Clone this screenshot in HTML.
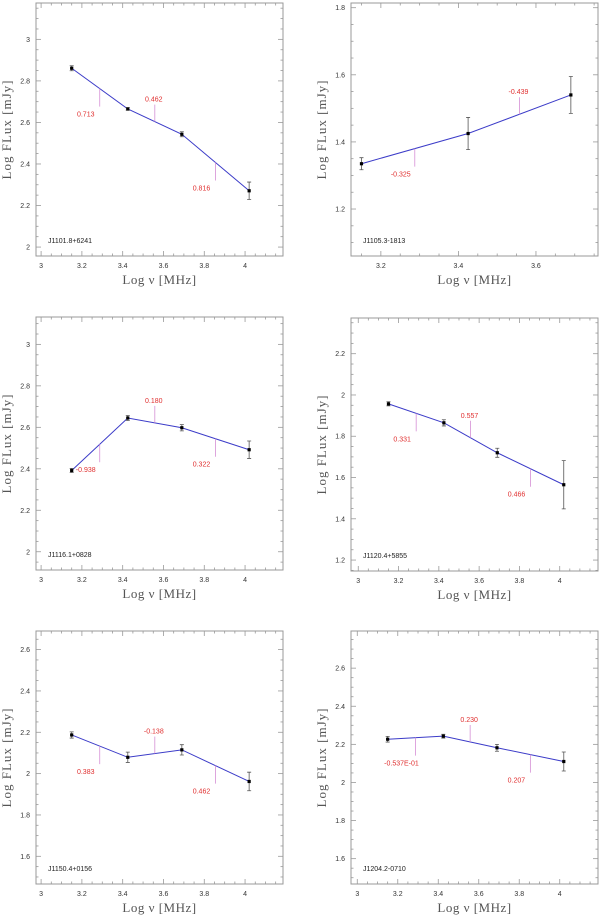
<!DOCTYPE html>
<html><head><meta charset="utf-8">
<style>
html,body{margin:0;padding:0;background:#fff;}
svg{display:block;}
text{font-family:"Liberation Sans",sans-serif;}
.ser{font-family:"Liberation Serif",serif;}
</style></head>
<body>
<svg id="chart" width="600" height="915" viewBox="0 0 600 915"></svg>
<script>
// ---- data ----
const sourceNames = ["J1101.8+6241","J1105.3-1813","J1116.1+0828","J1120.4+5855","J1150.4+0156","J1204.2-0710"];
const logFreq = [3.15, 3.425, 3.69, 4.02];
const fluxP1 = [2.861, 2.665, 2.543, 2.271];
const errP1  = [0.012, 0.006, 0.012, 0.042];
const fluxP2 = [1.335, 1.425, 1.54];
const errP2  = [0.018, 0.048, 0.055];
const fluxP3 = [2.392, 2.645, 2.598, 2.492];
const errP3  = [0.01, 0.012, 0.015, 0.042];
const fluxP4 = [1.957, 1.865, 1.72, 1.565];
const errP4  = [0.01, 0.015, 0.022, 0.117];
const fluxP5 = [2.187, 2.079, 2.115, 1.962];
const errP5  = [0.015, 0.025, 0.025, 0.045];
const fluxP6 = [2.227, 2.243, 2.182, 2.11];
const errP6  = [0.015, 0.01, 0.018, 0.05];
const slopeP1 = ["0.713","0.462","0.816"];
const slopeP2 = ["-0.325","-0.439"];
const slopeP3 = ["-0.938","0.180","0.322"];
const slopeP4 = ["0.331","0.557","0.466"];
const slopeP5 = ["0.383","-0.138","0.462"];
const slopeP6 = ["-0.537E-01","0.230","0.207"];
const xTicksA = [3, 3.2, 3.4, 3.6, 3.8, 4];
const xTicksB = [3.2, 3.4, 3.6];
const yTicksP1 = [2, 2.2, 2.4, 2.6, 2.8, 3];
const yTicksP2 = [1.2, 1.4, 1.6, 1.8];
const yTicksP4 = [1.2, 1.4, 1.6, 1.8, 2, 2.2];
const yTicksP5 = [1.6, 1.8, 2, 2.2, 2.4, 2.6];

const panels = [
 {box:[36,3,283,256], xr:[2.975,4.186], yr:[1.957,3.175], flux:fluxP1, err:errP1, slopes:slopeP1, xt:xTicksA, yt:yTicksP1},
 {box:[351,3,598,256], xr:[3.123,3.76], yr:[1.06,1.814], flux:fluxP2, err:errP2, slopes:slopeP2, xt:xTicksB, yt:yTicksP2},
 {box:[36,317,283,570], xr:[2.975,4.186], yr:[1.912,3.132], flux:fluxP3, err:errP3, slopes:slopeP3, xt:xTicksA, yt:yTicksP1},
 {box:[351,318,598,571], xr:[2.964,4.19], yr:[1.147,2.373], flux:fluxP4, err:errP4, slopes:slopeP4, xt:xTicksA, yt:yTicksP4},
 {box:[36,631,283,884], xr:[2.975,4.186], yr:[1.466,2.69], flux:fluxP5, err:errP5, slopes:slopeP5, xt:xTicksA, yt:yTicksP5},
 {box:[351,631,598,884], xr:[2.969,4.189], yr:[1.467,2.795], flux:fluxP6, err:errP6, slopes:slopeP6, xt:xTicksA, yt:yTicksP5}
];
const NS="http://www.w3.org/2000/svg";
const svg=document.getElementById('chart');
function mk(tag,attrs,parent,txt){const e=document.createElementNS(NS,tag);for(const k in attrs)e.setAttribute(k,attrs[k]);if(txt!==undefined)e.textContent=txt;parent.appendChild(e);return e;}
function fmt(v){return String(Math.round(v*10)/10===v?v:+v.toFixed(1));}

panels.forEach((p,pi)=>{
  const [x0,y0,x1,y1]=p.box;
  const X=v=>x0+(v-p.xr[0])/(p.xr[1]-p.xr[0])*(x1-x0);
  const Y=v=>y1-(v-p.yr[0])/(p.yr[1]-p.yr[0])*(y1-y0);
  const g=mk('g',{},svg);
  
  
  const fr=mk('rect',{x:x0,y:y0,width:x1-x0,height:y1-y0,fill:'none',stroke:'#999','stroke-width':1},g);
  
  
  // ticks
  const tk=mk('g',{stroke:'#999','stroke-width':0.8},g);
  
  
  for(let v=Math.ceil(p.xr[0]/0.05)*0.05; v<=p.xr[1]; v+=0.05){
    const maj=Math.abs(v*5-Math.round(v*5))<1e-6; const L=maj?5:2.5; const x=X(v);
    mk('line',{x1:x,y1:y1,x2:x,y2:y1-L},tk); mk('line',{x1:x,y1:y0,x2:x,y2:y0+L},tk);
  }
  for(let v=Math.ceil(p.yr[0]/0.05)*0.05; v<=p.yr[1]; v+=0.05){
    const maj=Math.abs(v*5-Math.round(v*5))<1e-6; const L=maj?5:2.5; const y=Y(v);
    mk('line',{x1:x0,y1:y,x2:x0+L,y2:y},tk); mk('line',{x1:x1,y1:y,x2:x1-L,y2:y},tk);
  }
  p.xt.forEach(v=>{const t=mk('text',{x:X(v),y:y1+12,'font-size':7,fill:'#333','text-anchor':'middle'},g,fmt(v));
    });
  p.yt.forEach(v=>{const t=mk('text',{x:x0-6,y:Y(v)+2.5,'font-size':7,fill:'#333','text-anchor':'end'},g,fmt(v));
    });
  const xt=mk('text',{x:(x0+x1)/2,y:y1+28,'font-size':13,fill:'#555','text-anchor':'middle','class':'ser','letter-spacing':'0.5'},g,'Log  \u03BD  [MHz]');
  
  const cy=(y0+y1)/2, cx=x0-25;
  const yt=mk('text',{x:cx,y:cy,'font-size':13,fill:'#555','text-anchor':'middle','class':'ser','letter-spacing':'1',transform:`rotate(-90 ${cx} ${cy})`},g,'Log  FLux  [mJy]');
  
  const sn=mk('text',{x:x0+12,y:y1-13,'font-size':7,fill:'#222'},g,sourceNames[pi]);
  
  // line
  const n=p.flux.length;
  const pts=p.flux.map((f,i)=>X(logFreq[i])+','+Y(f)).join(' ');
  const pl=mk('polyline',{points:pts,fill:'none',stroke:'#3b3bc8','stroke-width':1},g);
  
  // slope markers
  p.slopes.forEach((s,i)=>{
    const xm=(logFreq[i]+logFreq[i+1])/2, ym=(p.flux[i]+p.flux[i+1])/2;
    const up=(i%2===1);
    const x=X(xm), y=Y(ym);
    const m=mk('line',{x1:x,y1:y,x2:x,y2:up?y-17:y+18,stroke:'#d58fd5','stroke-width':0.8},g);
    
    const t=mk('text',{x:up?x-1:x-14,y:up?y-20:y+28,'font-size':7,fill:'#e03030','text-anchor':'middle'},g,s);
    
  });
  // points + error bars
  p.flux.forEach((f,i)=>{
    const x=X(logFreq[i]);
    const e=mk('path',{d:`M${x},${Y(f+p.err[i])}V${Y(f-p.err[i])}M${x-2},${Y(f+p.err[i])}H${x+2}M${x-2},${Y(f-p.err[i])}H${x+2}`,stroke:'#555','stroke-width':0.8,fill:'none'},g);
    
    const d=mk('rect',{x:x-1.6,y:Y(f)-1.6,width:3.2,height:3.2,fill:'#000'},g);
    
  });
});
</script>
</body></html>
